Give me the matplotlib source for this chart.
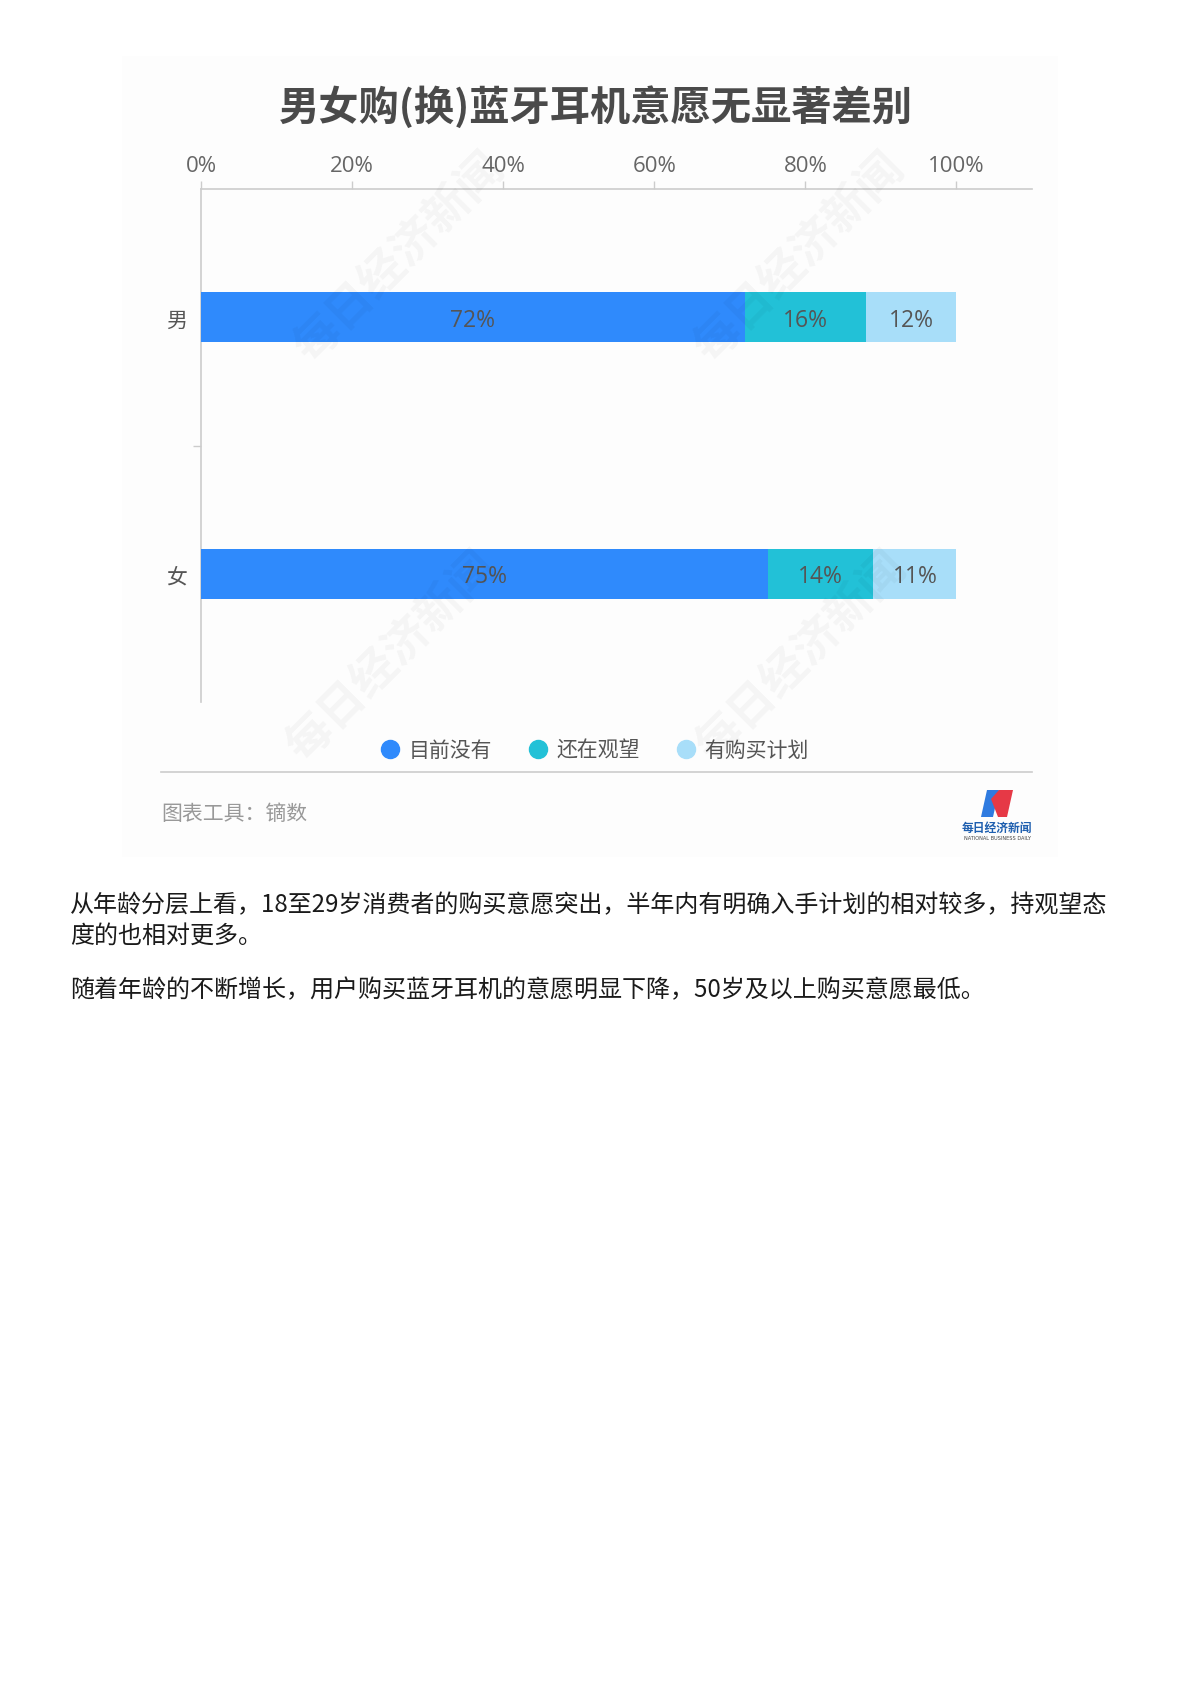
import numpy as np
import matplotlib.pyplot as plt
from matplotlib.patches import Polygon, Rectangle
from matplotlib.lines import Line2D

plt.rcParams['font.family'] = ['Noto Sans CJK SC', 'DejaVu Sans']

W, H = 1189, 1683

title = '男女购(换)蓝牙耳机意愿无显著差别'
genders = ['男', '女']
series_names = ['目前没有', '还在观望', '有购买计划']
values = {
    '目前没有': [72, 75],
    '还在观望': [16, 14],
    '有购买计划': [12, 11],
}
colors = ['#2F8AFC', '#22C1D7', '#A8DEF9']
xticks = [0, 20, 40, 60, 80, 100]
source = '图表工具：镝数'
para1 = ['从年龄分层上看，18至29岁消费者的购买意愿突出，半年内有明确入手计划的相对较多，持观望态',
         '度的也相对更多。']
para2 = '随着年龄的不断增长，用户购买蓝牙耳机的意愿明显下降，50岁及以上购买意愿最低。'


def fx(px):
    return px / W


def fy(py):
    return 1 - py / H


fig = plt.figure(figsize=(W / 100, H / 100), dpi=100)
fig.patch.set_facecolor('white')

# faint card background
fig.patches.append(Rectangle((fx(122), fy(858)), fx(1058) - fx(122), fy(57) - fy(858),
                             transform=fig.transFigure, facecolor='#fdfdfd', edgecolor='none', zorder=-10))

fig.text(fx(596), fy(107), title, fontsize=29, fontweight='bold', color='#4a4a4a',
         ha='center', va='center')

ax = fig.add_axes([fx(201), fy(703), fx(1032) - fx(201), fy(190) - fy(703)])
ax.set_facecolor('none')

ypos = np.arange(len(genders))[::-1]
left = np.zeros(len(genders))
for name, c in zip(series_names, colors):
    v = np.array(values[name], dtype=float)
    ax.barh(ypos, v, left=left, height=0.195, color=c, zorder=3)
    for y, l, w in zip(ypos, left, v):
        ax.text(l + w / 2, y - 0.01, f'{int(w)}%', ha='center', va='center', fontsize=16.5,
                color='#555555', zorder=4, family=['Open Sans', 'DejaVu Sans'])
    left += v

ax.set_xlim(0, 110)
ax.set_ylim(-0.5, 1.5)
ax.xaxis.tick_top()
ax.set_xticks(xticks)
ax.set_xticklabels([f'{t}%' for t in xticks], fontsize=16, color='#666666',
                   family=['Open Sans', 'DejaVu Sans'])
ax.tick_params(axis='x', length=6, width=1, color='#cccccc', pad=3)
ax.set_yticks(ypos)
ax.set_yticklabels(genders, fontsize=15, color='#555555')
ax.tick_params(axis='y', length=0, pad=10)
ax.set_yticks([0.5], minor=True)
ax.tick_params(axis='y', which='minor', length=6, width=1, color='#cccccc')
for s in ['right', 'bottom']:
    ax.spines[s].set_visible(False)
for s in ['top', 'left']:
    ax.spines[s].set_color('#cccccc')
    ax.spines[s].set_linewidth(1.2)

# watermarks
for wx, wy in [(400, 258), (800, 258), (392, 657), (802, 657)]:
    fig.text(fx(wx), fy(wy), '每日经济新闻', fontsize=33, fontweight='bold', color='#000000',
             alpha=0.035, rotation=45, ha='center', va='center', zorder=10)

# legend
handles = [Line2D([], [], marker='o', linestyle='none', markersize=13, markerfacecolor=c,
                  markeredgecolor=c) for c in colors]
fig.legend(handles, series_names, loc='center', bbox_to_anchor=(fx(593), fy(751)), ncol=3,
           frameon=False, fontsize=15, labelcolor='#555555', handletextpad=0.3,
           columnspacing=1.6, handlelength=1.2)

fig.add_artist(Line2D([fx(161), fx(1032)], [fy(773), fy(773)], color='#cccccc', lw=1.2))
fig.text(fx(161), fy(814), source, fontsize=15, color='#999999', ha='left', va='center')

# logo
blue = Polygon([(fx(981), fy(818)), (fx(987), fy(791)), (fx(999), fy(791)),
                (fx(993), fy(818))], closed=True, transform=fig.transFigure,
               facecolor='#2F7BE0', edgecolor='none')
red = Polygon([(fx(999), fy(791)), (fx(1013), fy(791)), (fx(1007), fy(818)),
               (fx(998), fy(818)), (fx(991), fy(800))], closed=True, transform=fig.transFigure,
              facecolor='#E63946', edgecolor='none')
fig.patches.extend([blue, red])
fig.text(fx(997), fy(828), '每日经济新闻', fontsize=8.5, fontweight='bold', color='#1F5FAF',
         ha='center', va='center')
fig.text(fx(997), fy(839), 'NATIONAL BUSINESS DAILY', fontsize=3.6, color='#444444',
         ha='center', va='center', family='DejaVu Sans')

# paragraphs
fig.text(fx(70), fy(905), para1[0], fontsize=17.3, color='#1a1a1a', ha='left', va='center')
fig.text(fx(70), fy(936), para1[1], fontsize=17.3, color='#1a1a1a', ha='left', va='center')
fig.text(fx(70), fy(990), para2, fontsize=17.3, color='#1a1a1a', ha='left', va='center')

fig.savefig('out.png', dpi=100)
